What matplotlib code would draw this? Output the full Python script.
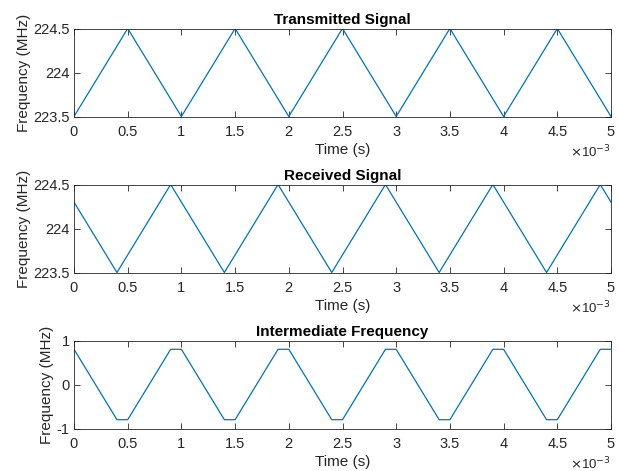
import numpy as np
import matplotlib.pyplot as plt
from matplotlib.ticker import FuncFormatter

# vertex times in ms, frequencies in MHz
tx_t = [0, 0.5, 1, 1.5, 2, 2.5, 3, 3.5, 4, 4.5, 5]
tx_f = [223.5, 224.5, 223.5, 224.5, 223.5, 224.5, 223.5, 224.5, 223.5, 224.5, 223.5]

rx_t = [0, 0.4, 0.9, 1.4, 1.9, 2.4, 2.9, 3.4, 3.9, 4.4, 4.9, 5]
rx_f = [224.3, 223.5, 224.5, 223.5, 224.5, 223.5, 224.5, 223.5, 224.5, 223.5, 224.5, 224.3]

if_t = [0, 0.4, 0.5, 0.9, 1.0, 1.4, 1.5, 1.9, 2.0, 2.4, 2.5, 2.9, 3.0, 3.4, 3.5,
        3.9, 4.0, 4.4, 4.5, 4.9, 5.0]
if_f = [0.8, -0.8, -0.8, 0.8, 0.8, -0.8, -0.8, 0.8, 0.8, -0.8, -0.8, 0.8, 0.8, -0.8, -0.8,
        0.8, 0.8, -0.8, -0.8, 0.8, 0.8]

titles = ['Transmitted Signal', 'Received Signal', 'Intermediate Frequency']
ylims = [(223.5, 224.5), (223.5, 224.5), (-1, 1)]
yticks = [[223.5, 224, 224.5], [223.5, 224, 224.5], [-1, 0, 1]]
xticks = [0, 0.5, 1, 1.5, 2, 2.5, 3, 3.5, 4, 4.5, 5]

plt.rcParams['font.family'] = ['Liberation Sans', 'DejaVu Sans']

W, H = 619, 471
fig = plt.figure(figsize=(W / 100, H / 100), dpi=100)
tops = [28.5, 184.5, 340.5]
blue = '#0072BD'
txt = '#262626'

series = [(tx_t, tx_f), (rx_t, rx_f), (if_t, if_f)]
for k in range(3):
    top = tops[k]
    ax = fig.add_axes([74 / W, 1 - (top + 88) / H, 537 / W, 88 / H])
    t, f = series[k]
    ax.plot(np.array(t) * 1e-3, f, color=blue, lw=0.9)
    ax.set_xlim(0, 5e-3)
    ax.set_ylim(*ylims[k])
    ax.set_xticks(np.array(xticks) * 1e-3)
    ax.xaxis.set_major_formatter(FuncFormatter(lambda v, p: ('%g' % round(v * 1e3, 6))))
    ax.set_yticks(yticks[k])
    ax.yaxis.set_major_formatter(FuncFormatter(lambda v, p: '%g' % v))
    ax.tick_params(direction='in', top=True, right=True, length=4, width=0.6,
                   colors=txt, labelsize=10.5)
    ax.tick_params(axis='x', pad=6)
    ax.tick_params(axis='y', pad=3)
    for s in ax.spines.values():
        s.set_linewidth(0.6)
        s.set_color(txt)
    ax.set_title(titles[k], fontweight='bold', fontsize=11, pad=3, color='black')
    ax.set_xlabel('Time (s)', color=txt, fontsize=11, labelpad=3)
    ax.set_ylabel('Frequency (MHz)', color=txt, fontsize=11, labelpad=2)
    ax.text(1.0, -0.31, r'$\times$10$^{-3}$', transform=ax.transAxes, ha='right', va='top',
            fontsize=9.5, color=txt)

fig.savefig('out.png', dpi=100)
